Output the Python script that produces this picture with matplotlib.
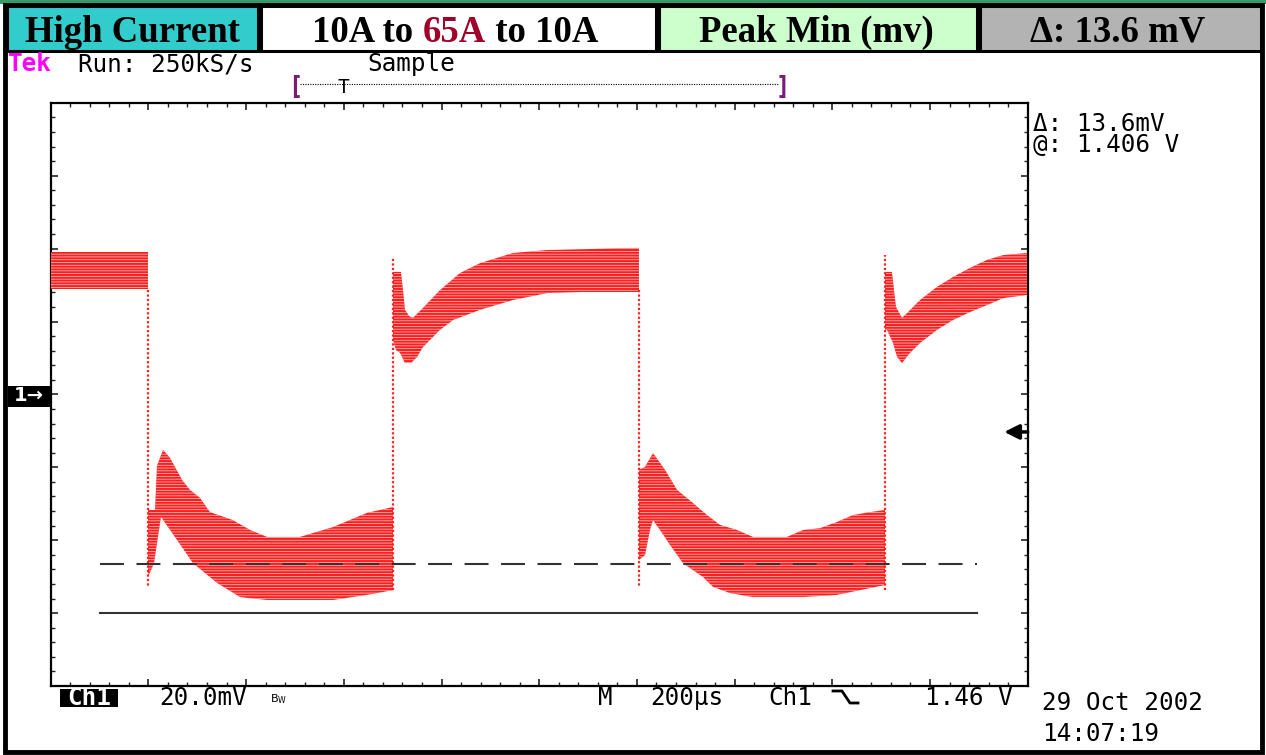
import numpy as np
import matplotlib
matplotlib.use("Agg")
import matplotlib.pyplot as plt
from matplotlib.patches import Rectangle
from matplotlib.lines import Line2D

W, H = 1266, 755

# ---------------- data (time in us, Ch1 voltage in V) ----------------
# high level, first period
t_a_up = [0.0, 199.2]
v_a_up = [1.5051, 1.5051]
t_a_lo = [0.0, 199.2]
v_a_lo = [1.4949, 1.4949]
# low level after 10A->65A step
t_b_up = [199.2, 213.5, 217.6, 229.9, 244.2, 269.2, 285.2, 305.6, 326.1, 373.2,
          408.0, 442.8, 510.3, 577.9, 647.5, 700.7]
v_b_up = [1.4343, 1.4343, 1.4464, 1.4508, 1.4486, 1.4425, 1.4398, 1.4376, 1.4337,
          1.4315, 1.4288, 1.4269, 1.4269, 1.4296, 1.4335, 1.4351]
t_b_lo = [199.2, 211.5, 225.8, 258.5, 291.3, 340.4, 387.5, 442.8, 577.9, 647.5, 700.7]
v_b_lo = [1.4159, 1.4197, 1.4324, 1.4261, 1.4197, 1.4143, 1.4104, 1.4096, 1.4096,
          1.4110, 1.4123]
# high level after 65A->10A step
t_c_up = [700.7, 717.0, 721.2, 725.3, 733.5, 741.7, 762.1, 796.9, 837.9, 878.8,
          946.4, 1016.0, 1204.3]
v_c_up = [1.4996, 1.4996, 1.4946, 1.4892, 1.4875, 1.4870, 1.4897, 1.4946, 1.4993,
          1.5020, 1.5048, 1.5056, 1.5062]
t_c_lo = [700.7, 706.9, 715.0, 725.3, 737.6, 750.0, 762.1, 796.9, 823.5, 878.8,
          946.4, 1016.0, 1085.6, 1204.3]
v_c_lo = [1.4809, 1.4782, 1.4774, 1.4746, 1.4746, 1.4763, 1.4790, 1.4837, 1.4864,
          1.4892, 1.4919, 1.4938, 1.4941, 1.4941]
# low level, second period
t_d_up = [1204.3, 1216.6, 1233.0, 1257.6, 1282.2, 1314.9, 1343.5, 1370.1, 1404.9,
          1437.7, 1507.3, 1540.0, 1574.8, 1609.6, 1642.4, 1677.2, 1707.9]
v_d_up = [1.4453, 1.4461, 1.4499, 1.4453, 1.4398, 1.4362, 1.4329, 1.4302, 1.4288,
          1.4269, 1.4269, 1.4288, 1.4293, 1.4310, 1.4329, 1.4337, 1.4343]
t_d_lo = [1204.3, 1216.6, 1226.8, 1233.0, 1247.3, 1267.8, 1294.4, 1335.3, 1355.8,
          1390.6, 1437.7, 1540.0, 1609.6, 1656.7, 1707.9]
v_d_lo = [1.4206, 1.4219, 1.4288, 1.4315, 1.4288, 1.4247, 1.4197, 1.4159, 1.4132,
          1.4115, 1.4104, 1.4104, 1.4110, 1.4123, 1.4137]
# high level, second period
t_e_up = [1707.9, 1722.2, 1726.3, 1730.4, 1742.7, 1753.0, 1779.6, 1814.4, 1847.1,
          1881.9, 1916.7, 1949.5, 1998.6]
v_e_up = [1.4996, 1.4996, 1.4946, 1.4900, 1.4870, 1.4883, 1.4919, 1.4955, 1.4982,
          1.5007, 1.5029, 1.5042, 1.5048]
t_e_lo = [1707.9, 1712.0, 1724.3, 1732.5, 1742.7, 1759.1, 1779.6, 1814.4, 1847.1,
          1881.9, 1916.7, 1949.5, 1998.6]
v_e_lo = [1.4837, 1.4837, 1.4801, 1.4763, 1.4746, 1.4774, 1.4801, 1.4837, 1.4864,
          1.4886, 1.4905, 1.4924, 1.4933]

# load-step edges
step_t = [199.2, 700.7, 1204.3, 1707.9]
step_from = [1.4946, 1.4123, 1.4946, 1.4123]
step_to = [1.4132, 1.5037, 1.4132, 1.5042]

# horizontal bar cursors (V) and their extent (us)
cursor_solid = 1.406
cursor_dashed = 1.4196
cursor_t = [100.9, 1896.2]

# reference markers
ch1_ref_v = 1.4656
trig_v = 1.4557

t_range = [0.0, 2000.0]
v_range = [1.386, 1.546]

# ---------------- figure ----------------
plt.rcParams["hatch.linewidth"] = 0.5
fig = plt.figure(figsize=(W / 100, H / 100), dpi=100)
fig.patch.set_facecolor("white")

bg = fig.add_axes([0, 0, 1, 1], zorder=0)
bg.set_xlim(0, W)
bg.set_ylim(H, 0)
bg.axis("off")

# top green strip and outer black frame
bg.add_patch(Rectangle((0, 0), W, 4, facecolor="#3A9A6A", edgecolor="none"))
bg.add_patch(Rectangle((5, 5), W - 9, H - 8, facecolor="none", edgecolor="black", lw=3.5))
# header cells
cells = [(7, 258, "#33CCCC"), (261, 656, "white"), (659, 977, "#CCFFCC"), (980, 1261, "#B3B3B3")]
for x0, x1, c in cells:
    bg.add_patch(Rectangle((x0, 6), x1 - x0, 45, facecolor=c, edgecolor="black", lw=2.2))
bg.add_patch(Rectangle((5, 50), W - 9, 3, facecolor="black", edgecolor="none"))

hfont = dict(family="Liberation Serif", weight="bold", size=26.5, va="baseline")
bg.text(132, 42, "High Current", ha="center", color="black", **hfont)
bg.text(816, 42, "Peak Min (mv)", ha="center", color="black", **hfont)
bg.text(1118, 42, "\u0394: 13.6 mV", ha="center", color="black", **hfont)

r = fig.canvas.get_renderer()
parts = [("10A to ", "black"), ("65A", "#A0002A"), (" to 10A", "black")]
objs = [bg.text(0, 42, s, ha="left", color=c, **hfont) for s, c in parts]
widths = [o.get_window_extent(r).width for o in objs]
x = 455 - sum(widths) / 2
for o, w in zip(objs, widths):
    o.set_x(x)
    x += w

# scope annotations
sfont = dict(family="DejaVu Sans Mono", size=17.5, va="baseline")
bg.text(8, 71, "Tek", ha="left", color="#FF00FF", weight="bold", **sfont)
bg.text(166, 71, "Run: 250kS/s", ha="center", color="black", **sfont)
bg.text(411, 71, "Sample", ha="center", color="black", **sfont)
bg.text(295, 94, "[", ha="center", color="#7A1A7A", family="DejaVu Sans Mono", size=17,
        weight="bold", va="baseline")
bg.text(783, 94, "]", ha="center", color="#7A1A7A", family="DejaVu Sans Mono", size=17,
        weight="bold", va="baseline")
bg.add_line(Line2D([300, 779], [84, 84], color="black", lw=0.8, ls=(0, (1, 1.2))))
bg.text(343, 93, "T", ha="center", color="black", family="DejaVu Sans Mono", size=14, va="baseline")

bg.text(1033, 152, "\u0394: 13.6mV\n@: 1.406 V", ha="left", color="black",
        family="DejaVu Sans Mono", size=17.5, va="baseline", linespacing=0.84)

bg.add_patch(Rectangle((60, 689), 58, 18, facecolor="black", edgecolor="none"))
bg.text(89, 705, "Ch1", ha="center", color="white", weight="bold", **sfont)
bg.text(203, 705, "20.0mV", ha="center", color="black", **sfont)
bg.text(279, 702, r"$\mathregular{B_W}$", ha="center", color="black", size=8, va="baseline")
bg.text(605, 705, "M", ha="center", color="black", **sfont)
bg.text(687, 705, "200\u00b5s", ha="center", color="black", **sfont)
bg.text(790, 705, "Ch1", ha="center", color="black", **sfont)
bg.add_line(Line2D([833, 842, 850, 858], [691, 691, 703, 703], color="black", lw=2))
bg.text(969, 705, "1.46 V", ha="center", color="black", **sfont)
bg.text(1042, 710, "29 Oct 2002", ha="left", color="black", **sfont)
bg.text(1042, 741, "14:07:19", ha="left", color="black", **sfont)

# ---------------- scope graticule ----------------
ax = fig.add_axes([50.7 / W, 1 - 686 / H, 977 / W, 583.2 / H], zorder=2)
ax.set_facecolor("white")
ax.set_xlim(*t_range)
ax.set_ylim(*v_range)
for s in ax.spines.values():
    s.set_linewidth(1.6)
    s.set_color("black")
ax.set_xticks(np.arange(0, 2001, 200))
ax.set_xticks(np.arange(0, 2001, 40), minor=True)
ax.set_yticks(np.arange(1.386, 1.5461, 0.02))
ax.set_yticks(np.arange(1.386, 1.5461, 0.004), minor=True)
ax.tick_params(which="both", direction="in", top=True, right=True, bottom=True, left=True,
               labelbottom=False, labelleft=False, color="#222222")
ax.tick_params(which="major", length=5, width=1.2)
ax.tick_params(which="minor", length=3.2, width=1.0)

segments = [(t_a_up, v_a_up, t_a_lo, v_a_lo), (t_b_up, v_b_up, t_b_lo, v_b_lo),
            (t_c_up, v_c_up, t_c_lo, v_c_lo), (t_d_up, v_d_up, t_d_lo, v_d_lo),
            (t_e_up, v_e_up, t_e_lo, v_e_lo)]
for tu, vu, tl, vl in segments:
    xs = list(tu) + list(tl)[::-1]
    ys = list(vu) + list(vl)[::-1]
    ax.fill(xs, ys, facecolor="#FF1E1E", edgecolor="#FFD0D0", hatch="------", linewidth=0,
            zorder=3)

for t, v0, v1 in zip(step_t, step_from, step_to):
    ax.plot([t, t], [v0, v1], color="#FF2020", lw=1.6, ls=(0, (1, 1)), zorder=3)

ax.plot(cursor_t, [cursor_dashed, cursor_dashed], color="#333333", lw=1.5,
        dashes=(11.5, 6), zorder=4)
ax.plot(cursor_t, [cursor_solid, cursor_solid], color="#333333", lw=1.5, zorder=4)

# channel reference marker and trigger level arrow
bg.add_patch(Rectangle((8, 386), 42, 21, facecolor="black", edgecolor="none", zorder=3))
y_ref = H - ax.transData.transform((0, ch1_ref_v))[1]
bg.text(29, y_ref, "1\u2192", ha="center", va="center", color="white", weight="bold",
        family="DejaVu Sans", size=14, zorder=4)
ax.annotate("", xy=(0.976, trig_v), xytext=(1.0, trig_v),
            xycoords=("axes fraction", "data"),
            arrowprops=dict(arrowstyle="-|>", color="black", lw=2.5, mutation_scale=22,
                            shrinkA=0, shrinkB=0))

fig.savefig("out.png", dpi=100)
